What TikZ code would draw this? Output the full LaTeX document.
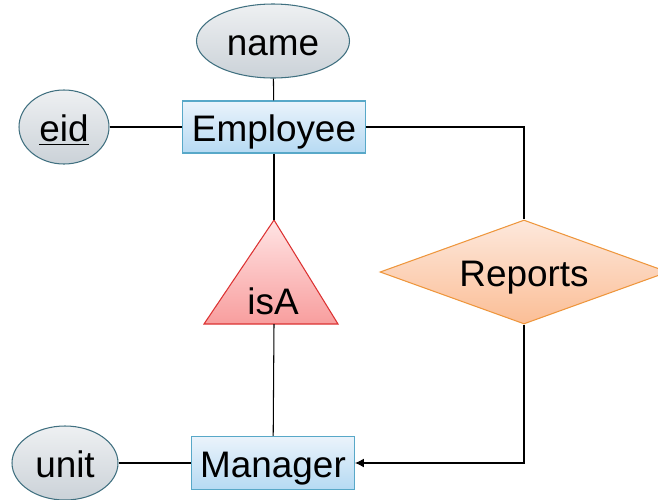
\documentclass[tikz,border=0pt]{standalone}
\usepackage{fontspec}
\setmainfont{Liberation Sans}
\usetikzlibrary{shapes.geometric,arrows.meta}

\definecolor{attrtop}{RGB}{238,240,242}
\definecolor{attrbot}{RGB}{203,210,216}
\definecolor{attrline}{RGB}{64,112,128}
\definecolor{enttop}{RGB}{234,243,251}
\definecolor{entbot}{RGB}{182,218,243}
\definecolor{entline}{RGB}{88,168,200}
\definecolor{reltop}{RGB}{253,232,220}
\definecolor{relbot}{RGB}{251,190,150}
\definecolor{relline}{RGB}{238,150,60}
\definecolor{isatop}{RGB}{255,228,228}
\definecolor{isabot}{RGB}{248,158,158}
\definecolor{isaline}{RGB}{220,50,50}

\begin{document}
\begin{tikzpicture}[
  font=\fontsize{21}{25}\selectfont,
  text height=21pt, text depth=4.2pt,
  line width=0.6pt,
  attr/.style={shape=ellipse, draw=attrline, top color=attrtop, bottom color=attrbot, inner sep=0pt},
  entity/.style={shape=rectangle, draw=entline, top color=enttop, bottom color=entbot, inner sep=0pt},
  rel/.style={shape=diamond, draw=relline, top color=reltop, bottom color=relbot, inner sep=0pt, aspect=2.77},
]
\useasboundingbox (0,0) rectangle (13.16,-9.98);

%entities
\node[entity, minimum width=3.66cm, minimum height=1.04cm] (emp) at (5.48,-2.54) {Employee};
\node[entity, minimum width=3.26cm, minimum height=1.06cm] (mgr) at (5.46,-9.26) {Manager};

%attributes
\node[attr, minimum width=3.06cm, minimum height=1.48cm] (name) at (5.46,-0.82) {name};
\node[attr, minimum width=1.80cm, minimum height=1.48cm] (eid) at (1.28,-2.54) {\underline{eid}};
\node[attr, minimum width=2.12cm, minimum height=1.48cm] (unit) at (1.30,-9.26) {unit};

%isA triangle
\coordinate (isa top) at (5.48,-4.40);
\coordinate (isa left) at (4.08,-6.48);
\coordinate (isa right) at (6.76,-6.48);
\coordinate (isa base) at (5.48,-6.48);
\draw[draw=isaline, top color=isatop, bottom color=isabot] (isa top) -- (isa right) -- (isa left) -- cycle;
\node (isa) at (5.46,-6.00) {isA};

%relationship
\node[rel, minimum width=5.76cm, minimum height=2.08cm] (rep) at (10.48,-5.44) {Reports};

\draw (eid) -- (emp);
\draw (name) -- (emp);
\draw (unit) -- (mgr);
\draw (emp) -- (isa top);
\draw (isa base) -- (mgr);
\draw (emp.east) -| (rep.north);
\draw[-{Latex[length=5pt,width=5pt]}] (rep.south) |- (mgr.east);

\end{tikzpicture}
\end{document}
